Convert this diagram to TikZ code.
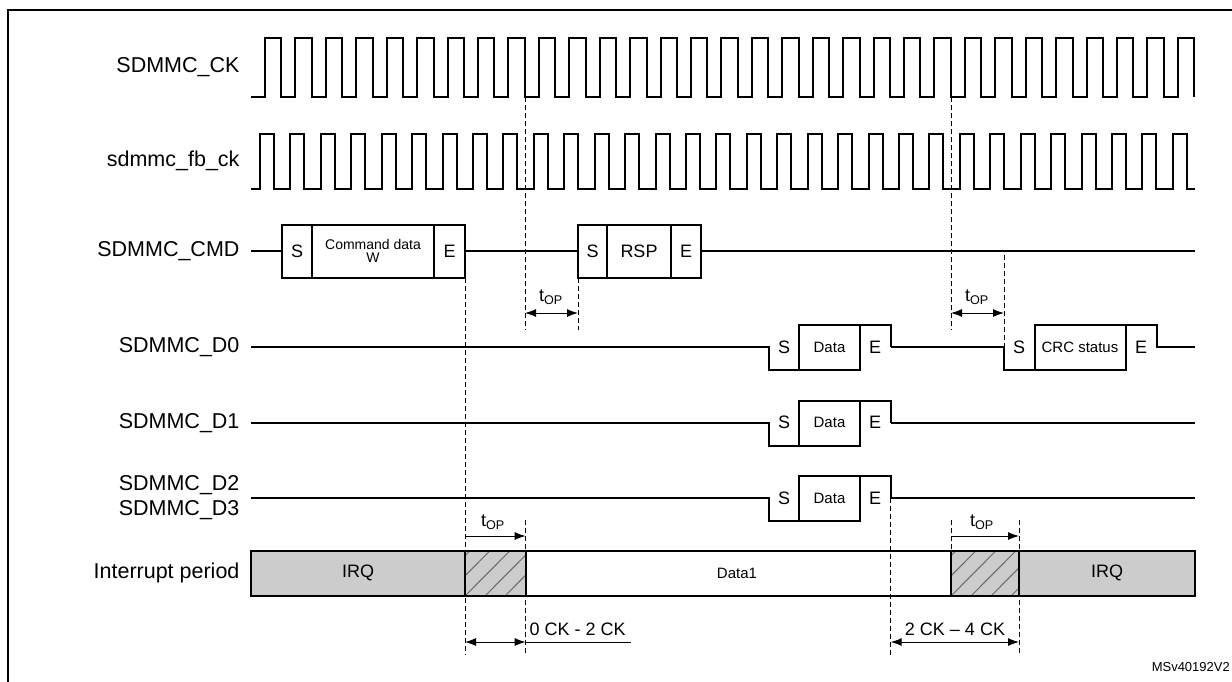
\documentclass[tikz,border=0pt]{standalone}
\usepackage{fontspec}
\setmainfont{Liberation Sans}
\usetikzlibrary{arrows.meta}

\begin{document}
\begin{tikzpicture}[x=1pt,y=-1pt,>={Latex[length=11pt,width=8pt]},
   sig/.style={line width=2pt},
   guide/.style={line width=0.8pt,dash pattern=on 5pt off 3pt},
   lbl/.style={anchor=east,font=\fontsize{21.5}{23}\selectfont},
   bit/.style={font=\fontsize{18}{20}\selectfont},
   small/.style={font=\fontsize{15}{16}\selectfont}]
\useasboundingbox (0,0) rectangle (1232,681);

% frame
\draw[line width=2pt] (8,700) -- (8,10) -- (1245,10);

% signal names
\node[lbl] at (243,67) {SDMMC\_CK};
\node[lbl] at (243,161) {sdmmc\_fb\_ck};
\node[lbl] at (243,251) {SDMMC\_CMD};
\node[lbl] at (243,347) {SDMMC\_D0};
\node[lbl] at (243,423) {SDMMC\_D1};
\node[lbl] at (243,485) {SDMMC\_D2};
\node[lbl] at (243,510) {SDMMC\_D3};
\node[lbl] at (243,573) {Interrupt period};

% clocks
\draw[sig] (251,97) \foreach \k in {0,...,30}{ -- ({265+\k*30.43},97) -- ++(0,-59) -- ++(16.4,0) -- ++(0,59) };
\draw[sig] (251,189) \foreach \k in {0,...,30}{ -- ({260+\k*30.43},189) -- ++(0,-55) -- ++(14,0) -- ++(0,55) } -- (1195,189);

% command line
\draw[sig] (251,251) -- (282,251);
\draw[sig] (282,225) rectangle (465,278) (312,225) -- (312,278) (434,225) -- (434,278);
\draw[sig] (465,251) -- (578,251);
\draw[sig] (578,225) rectangle (701,278) (607,225) -- (607,278) (671,225) -- (671,278);
\draw[sig] (701,251) -- (1195,251);
\node[bit] at (297,251) {S};
\node[font=\fontsize{14}{15}\selectfont,align=center] at (373,251) {Command data\\[-2pt]W};
\node[bit] at (449.5,251) {E};
\node[bit] at (592.5,251) {S};
\node[bit] at (639,251) {RSP};
\node[bit] at (686,251) {E};

% data lines
\foreach \y in {347,422.7,498}{
  \draw[sig] (251,\y) -- (769,\y) -- (769,\y+23) -- (860,\y+23);
  \draw[sig] (799,\y-22) rectangle (860,\y+23);
  \draw[sig] (860,\y-22) -- (890.7,\y-22) -- (890.7,\y);
  \node[bit] at (784,\y) {S};
  \node[small] at (829.5,\y) {Data};
  \node[bit] at (875,\y) {E};
}
\draw[sig] (890.7,422.7) -- (1195,422.7);
\draw[sig] (890.7,498) -- (1195,498);
\draw[sig] (890.7,347) -- (1004,347) -- (1004,370) -- (1126,370);
\draw[sig] (1034.5,325) rectangle (1126,370);
\draw[sig] (1126,325) -- (1156.5,325) -- (1156.5,347) -- (1195,347);
\node[bit] at (1019,347) {S};
\node[small] at (1080,347) {CRC status};
\node[bit] at (1141,347) {E};

% interrupt period
\fill[black!20] (250.7,550.7) rectangle (525.7,596);
\fill[black!20] (951,550.7) rectangle (1195,596);
\foreach \xa/\xb in {465/525.7,951/1019}{
  \begin{scope}
    \clip (\xa,550.7) rectangle (\xb,596);
    \foreach \s in {0,20,...,120}{
      \draw[black!60,line width=1pt] (\xa+\s-40,596) -- ++(45,-45.3);
    }
  \end{scope}
  \draw[sig] (\xa,550.7) -- (\xa,596) (\xb,550.7) -- (\xb,596);
}
\draw[sig] (250.7,550.7) rectangle (1195,596);
\node[bit] at (358,573) {IRQ};
\node[small] at (737,573) {Data1};
\node[bit] at (1107,573) {IRQ};

% guides
\draw[guide] (525,97) -- (525,330);
\draw[guide] (578,278) -- (578,330);
\draw[guide] (951,97) -- (951,330);
\draw[guide] (1004,255) -- (1004,347);
\draw[guide] (465,278) -- (465,655);
\draw[guide] (525.7,520) -- (525.7,655);
\draw[guide] (890.7,498) -- (890.7,655);
\draw[guide] (951,520) -- (951,550.7);
\draw[guide] (1019,520) -- (1019,655);

% timing arrows
\draw[<->,line width=1pt] (525,313) -- (578,313);
\node[bit] at (551,297) {t\textsubscript{OP}};
\draw[<->,line width=1pt] (951,313) -- (1004,313);
\node[bit] at (977,297) {t\textsubscript{OP}};
\draw[->,line width=1pt] (465,536) -- (525.7,536);
\node[bit] at (493,522) {t\textsubscript{OP}};
\draw[->,line width=1pt] (951,536) -- (1019,536);
\node[bit] at (982,522) {t\textsubscript{OP}};
\draw[<->,line width=1pt] (465,642) -- (525.7,642);
\draw[line width=0.8pt] (525.7,642) -- (631,642);
\node[bit,anchor=west] at (526,629) {0 CK - 2 CK};
\draw[<->,line width=1pt] (890.7,642) -- (1019,642);
\node[bit] at (955,629) {2 CK – 4 CK};

\node[font=\fontsize{13}{14}\selectfont,anchor=east,inner sep=1pt] at (1231,667) {MSv40192V2};
\end{tikzpicture}
\end{document}
